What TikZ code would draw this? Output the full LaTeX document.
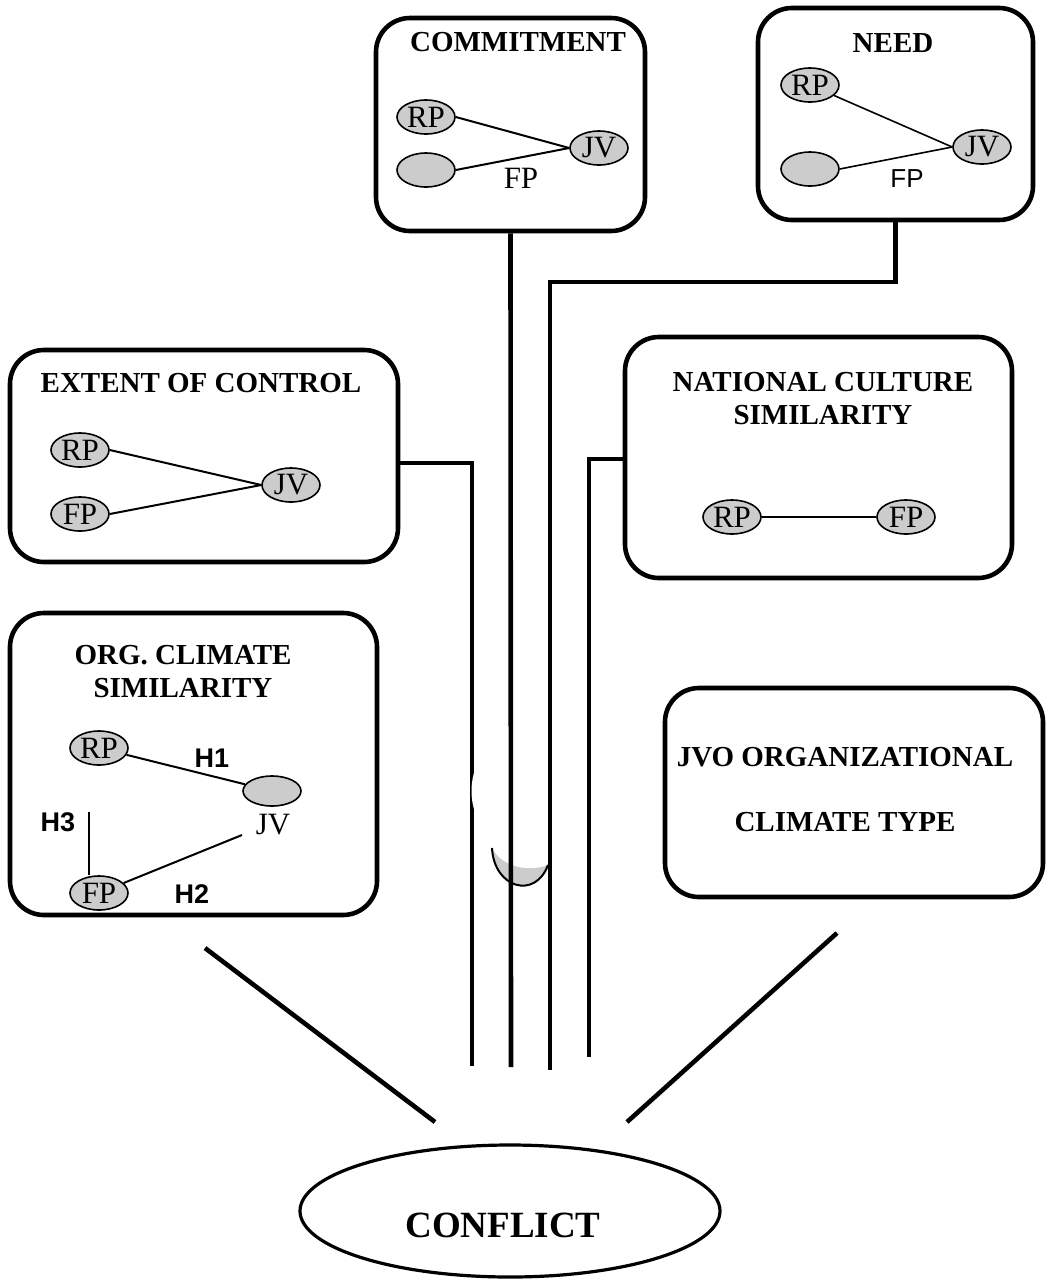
\documentclass[tikz,border=0pt]{standalone}
\usepackage{fontspec}
\setmainfont{Liberation Serif}
\newfontfamily\hsans{Liberation Sans}
\usetikzlibrary{shapes.geometric}

\begin{document}
\begin{tikzpicture}[x=0.5pt, y=-0.5pt,
        box/.style={draw, line width=2.3pt, rounded corners=17pt, inner sep=0pt},
        ttl/.style={font=\fontsize{14.5}{16.5}\selectfont\bfseries, align=center, inner sep=0pt},
        party/.style={ellipse, draw, line width=0.8pt, fill=gray!40, inner sep=0pt,
            minimum width=29pt, minimum height=17pt, font=\fontsize{15.5}{15.5}\selectfont},
        lbl/.style={inner sep=0pt, font=\fontsize{15.5}{15.5}\selectfont},
        hyp/.style={inner sep=0pt, font=\hsans\bfseries\fontsize{13.5}{13.5}\selectfont},
        tie/.style={line width=1pt},
        feed/.style={line width=2.3pt}
    ]
        \useasboundingbox (0,0) rectangle (1049,1281);

        % Define the six boxes
        \node[box, minimum width=134.5pt, minimum height=106.5pt] (commit) at (510.5,124.5) {};
        \node[box, minimum width=137.5pt, minimum height=106pt] (need) at (895.5,114) {};
        \node[box, minimum width=194pt, minimum height=106pt] (extent) at (204,456) {};
        \node[box, minimum width=193.5pt, minimum height=120.5pt] (natcult) at (818.5,457.5) {};
        \node[box, minimum width=183.5pt, minimum height=151pt] (orgclim) at (193.5,764) {};
        \node[box, minimum width=189pt, minimum height=104.5pt] (jvo) at (854,792.5) {};

        % Titles of the boxes
        \node[ttl] (ctitle) at (518,42) {COMMITMENT};
        \node[ttl] (ntitle) at (893,43) {NEED};
        \node[ttl] (etitle) at (201,383) {EXTENT OF CONTROL};
        \node[ttl] (nctitle) at (823,398.5) {NATIONAL CULTURE\\SIMILARITY};
        \node[ttl] (otitle) at (183,671.5) {ORG. CLIMATE\\SIMILARITY};
        \node[ttl] (jtitle) at (845,790) {JVO ORGANIZATIONAL\\[16pt]CLIMATE TYPE};

        % Commitment: RP and FP with the JV
        \node[party] (crp) at (426,117) {\makebox[0pt]{RP}};
        \node[party] (cfp) at (426,170) {};
        \node[party] (cjv) at (599,148) {\makebox[0pt]{JV}};
        \node[lbl] (cfplbl) at (521,178) {FP};
        \draw[tie] (crp.east) -- (cjv.west);
        \draw[tie] (cfp.east) -- (cjv.west);

        % Need
        \node[party] (nrp) at (810,85) {\makebox[0pt]{RP}};
        \node[party] (nfp) at (810,169) {};
        \node[party] (njv) at (982,147) {\makebox[0pt]{JV}};
        \node[lbl, font=\hsans\fontsize{13}{13}\selectfont] (nfplbl) at (907,179) {FP};
        \draw[line width=0.8pt] (nrp) -- (njv.west);
        \draw[line width=0.8pt] (nfp.east) -- (njv.west);

        % Extent of control
        \node[party] (erp) at (80,450) {\makebox[0pt]{RP}};
        \node[party] (efp) at (80,514) {\makebox[0pt]{FP}};
        \node[party] (ejv) at (291,485) {\makebox[0pt]{JV}};
        \draw[tie] (erp.east) -- (ejv.west);
        \draw[tie] (efp.east) -- (ejv.west);

        % National culture similarity
        \node[party] (ncrp) at (732,517) {\makebox[0pt]{RP}};
        \node[party] (ncfp) at (906,517) {\makebox[0pt]{FP}};
        \draw[tie] (ncrp) -- (ncfp);

        % Org. climate similarity with H1, H2, H3
        \node[party] (orp) at (99,748) {\makebox[0pt]{RP}};
        \node[party, minimum height=15pt] (ojv) at (272,791) {};
        \node[lbl] (ojvlbl) at (273,825) {JV};
        \node[party] (ofp) at (99,893) {\makebox[0pt]{FP}};
        \coordinate (ojvfoot) at (242,835);
        \coordinate (oh3top) at (89,812);
        \draw[tie] (orp) -- (ojv);
        \draw[tie] (ofp) -- (ojvfoot);
        \draw[line width=0.8pt] (oh3top) -- (oh3top |- ofp.north);
        \node[hyp] (h1) at (212,758) {H1};
        \node[hyp] (h2) at (192,894) {H2};
        \node[hyp] (h3) at (58,822) {H3};

        % Free ends of the feeding lines
        \coordinate (cbot) at (511,1067);
        \coordinate (nbend) at (896,282);
        \coordinate (nbot) at (550,1070);
        \coordinate (ebend) at (472,463);
        \coordinate (ebot) at (472,1066);
        \coordinate (ncbend) at (589,459);
        \coordinate (ncbot) at (589,1057);

        % Gray crescent behind the lines
        \fill[gray!40] (492,848) .. controls (494,888) and (535,900) .. (548,865)
            .. controls (530,872) and (502,868) .. (492,848);
        \draw[line width=1pt] (492,848) .. controls (494,888) and (535,900) .. (548,865);

        % Lines running down to the conflict
        \draw[feed] (commit.south) -- (cbot);
        \draw[feed] (need.south) -- (need.south |- nbend) -- (nbend -| nbot) -- (nbot);
        \draw[feed] (extent.east |- ebend) -- (ebend) -- (ebot);
        \draw[feed] (natcult.west |- ncbend) -- (ncbend) -- (ncbot);
        \fill[white] (476,767) .. controls (470,782) and (470,800) .. (476,815) -- cycle;

        % Diagonals from the bottom boxes
        \coordinate (ldtop) at (205,948);
        \coordinate (ldend) at (435,1122);
        \coordinate (rdtop) at (837,933);
        \coordinate (rdend) at (627,1122);
        \draw[feed] (ldtop) -- (ldend);
        \draw[feed] (rdtop) -- (rdend);

        % Conflict
        \node[ellipse, draw, line width=1.6pt, minimum width=210pt, minimum height=66pt,
            inner sep=0pt] (conflict) at (510,1211) {};
        \node[ttl, font=\fontsize{18.5}{18.5}\selectfont\bfseries] (conftxt) at (503,1225) {CONFLICT};

    \end{tikzpicture}
\end{document}
